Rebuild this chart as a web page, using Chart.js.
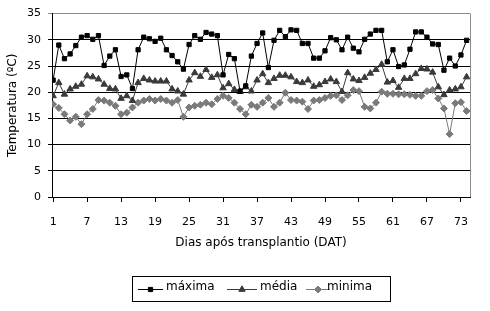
<!DOCTYPE html>
<html>
<head>
<meta charset="utf-8">
<script src="https://cdn.jsdelivr.net/npm/chart.js@4"></script>
<style>
html,body{margin:0;padding:0;background:#fff;}
#wrap{width:490px;height:311px;position:relative;}
</style>
</head>
<body>
<div id="wrap"><canvas id="c" width="490" height="311"></canvas></div>
<script>
const days = Array.from({length: 74}, (_, i) => i + 1);
const xTickLabels = [1, 7, 13, 19, 25, 31, 37, 43, 49, 55, 61, 67, 73];
const yTickLabels = [0, 5, 10, 15, 20, 25, 30, 35];
const seriesNames = ['máxima', 'média', 'minima'];

const maxima = [22.3, 29.0, 26.4, 27.3, 28.9, 30.5, 30.8, 30.1, 30.8, 25.1,
  26.9, 28.1, 23.0, 23.3, 20.7, 28.1, 30.5, 30.2, 29.7, 30.3,
  28.1, 27.0, 25.8, 24.4, 29.1, 30.8, 30.1, 31.4, 31.1, 30.8,
  23.3, 27.2, 26.4, 20.2, 21.2, 26.9, 29.3, 31.3, 24.7, 29.9,
  31.8, 30.6, 31.9, 31.8, 29.3, 29.3, 26.5, 26.5, 27.9, 30.4,
  30.0, 28.1, 30.5, 28.4, 27.7, 30.1, 31.1, 31.8, 31.8, 25.8,
  28.1, 24.9, 25.2, 28.2, 31.5, 31.5, 30.5, 29.2, 29.1, 24.2,
  26.5, 25.0, 27.1, 29.9];

const media = [19.3, 21.8, 19.6, 20.6, 21.1, 21.5, 23.1, 22.9, 22.5, 21.5,
  20.7, 20.6, 18.8, 19.3, 18.4, 21.8, 22.6, 22.3, 22.1, 22.1,
  22.1, 20.6, 20.2, 19.6, 22.3, 23.7, 23.0, 24.3, 22.8, 23.3,
  20.8, 21.6, 20.5, 20.1, 21.0, 20.2, 22.3, 23.5, 21.8, 22.6,
  23.2, 23.2, 22.9, 22.0, 21.8, 22.3, 21.1, 21.4, 22.0, 22.5,
  22.0, 20.1, 23.7, 22.5, 22.2, 22.8, 23.6, 24.3, 25.3, 21.9,
  22.2, 20.9, 22.6, 22.6, 23.5, 24.5, 24.4, 23.8, 21.0, 19.5,
  20.4, 20.6, 21.0, 22.9];

const minima = [17.7, 17.0, 15.8, 14.6, 15.3, 13.9, 15.8, 16.8, 18.5, 18.4,
  18.0, 17.4, 15.8, 16.1, 17.1, 18.0, 18.4, 18.7, 18.4, 18.7,
  18.4, 18.0, 18.5, 15.3, 17.1, 17.4, 17.6, 18.0, 17.7, 18.7,
  19.3, 18.9, 18.0, 16.8, 15.8, 17.6, 17.2, 18.0, 18.9, 17.2,
  18.0, 19.9, 18.5, 18.4, 18.2, 16.8, 18.4, 18.5, 18.9, 19.3,
  19.4, 18.5, 19.4, 20.4, 20.2, 17.2, 16.9, 18.0, 20.1, 19.7,
  19.7, 19.6, 19.6, 19.5, 19.3, 19.3, 20.2, 20.4, 18.8, 16.9,
  12.0, 17.9, 18.1, 16.4];

const FONT = 'DejaVu Sans';

const styles = [
  {color: '#000000', point: 'rect', radius: 3.0},
  {color: '#3a3a3a', point: 'triangle', radius: 3.7},
  {color: '#7a7a7a', point: 'rectRot', radius: 3.5}
];

function toPoints(arr) { return arr.map((v, i) => ({x: days[i], y: v})); }
const allSeries = [maxima, media, minima];

const datasets = allSeries.map((arr, k) => ({
  label: seriesNames[k],
  data: toPoints(arr),
  borderColor: styles[k].color,
  backgroundColor: styles[k].color,
  pointBackgroundColor: styles[k].color,
  pointBorderColor: styles[k].color,
  pointStyle: styles[k].point,
  pointRadius: styles[k].radius,
  pointBorderWidth: 1,
  borderWidth: 1,
  tension: 0,
  order: k
}));

const extras = {
  id: 'extras',
  afterDraw(chart) {
    const ctx = chart.ctx;
    const a = chart.chartArea;
    ctx.save();
    ctx.strokeStyle = '#8c8c8c';
    ctx.lineWidth = 1;
    ctx.beginPath();
    ctx.moveTo(Math.round(a.right) + 0.5, a.top);
    ctx.lineTo(Math.round(a.right) + 0.5, a.bottom);
    ctx.stroke();
    ctx.strokeStyle = '#000';
    ctx.strokeRect(132.5, 276.5, 258, 25);
    const items = [
      {x1: 138, x2: 163, tx: 166},
      {x1: 227, x2: 257, tx: 260},
      {x1: 306, x2: 330, tx: 327}
    ];
    const ly = 289;
    items.forEach((it, k) => {
      ctx.strokeStyle = styles[k].color;
      ctx.lineWidth = 1;
      ctx.beginPath();
      ctx.moveTo(it.x1, ly + 0.5);
      ctx.lineTo(it.x2, ly + 0.5);
      ctx.stroke();
      ctx.fillStyle = styles[k].color;
      ctx.strokeStyle = styles[k].color;
      Chart.helpers.drawPoint(ctx, {
        pointStyle: styles[k].point,
        radius: styles[k].radius,
        borderWidth: 1,
        rotation: 0
      }, (it.x1 + it.x2) / 2, ly + 0.5);
      ctx.fillStyle = '#000';
      ctx.font = '12px "' + FONT + '"';
      ctx.textBaseline = 'middle';
      ctx.textAlign = 'left';
      ctx.fillText(seriesNames[k], it.tx, 287);
    });
    ctx.restore();
  }
};

new Chart(document.getElementById('c'), {
  type: 'line',
  data: {datasets},
  options: {
    responsive: false,
    animation: false,
    events: [],
    layout: {padding: {left: 0, right: 20, top: 12, bottom: 0}},
    plugins: {legend: {display: false}, tooltip: {enabled: false}},
    scales: {
      x: {
        type: 'linear',
        min: 0.8,
        max: 74.6,
        afterBuildTicks: (scale) => { scale.ticks = xTickLabels.map(v => ({value: v})); },
        afterFit: (scale) => { scale.height = 114; },
        ticks: {
          autoSkip: false,
          maxRotation: 0,
          padding: 14,
          color: '#000',
          font: {family: FONT, size: 11},
          callback: (v) => String(v)
        },
        grid: {
          drawOnChartArea: false,
          drawTicks: true,
          tickLength: 5,
          color: '#000'
        },
        border: {display: true, color: '#000', width: 1},
        title: {
          display: true,
          text: 'Dias após transplantio (DAT)',
          color: '#000',
          font: {family: FONT, size: 12},
          padding: {top: 0, bottom: 61}
        }
      },
      y: {
        min: 0,
        max: 35,
        afterBuildTicks: (scale) => { scale.ticks = yTickLabels.map(v => ({value: v})); },
        afterFit: (scale) => { scale.width = 52; },
        ticks: {
          padding: 7,
          color: '#000',
          font: {family: FONT, size: 11},
          callback: (v) => String(v)
        },
        grid: {
          drawTicks: true,
          tickLength: 4,
          color: (c) => (c.tick && c.tick.value === 35) ? '#8c8c8c' : '#000',
          lineWidth: 1
        },
        border: {display: true, color: '#000', width: 1},
        title: {
          display: true,
          text: 'Temperatura (ºC)',
          color: '#000',
          font: {family: FONT, size: 12},
          padding: {top: 6, bottom: 0}
        }
      }
    }
  },
  plugins: [extras]
});
</script>
</body>
</html>
